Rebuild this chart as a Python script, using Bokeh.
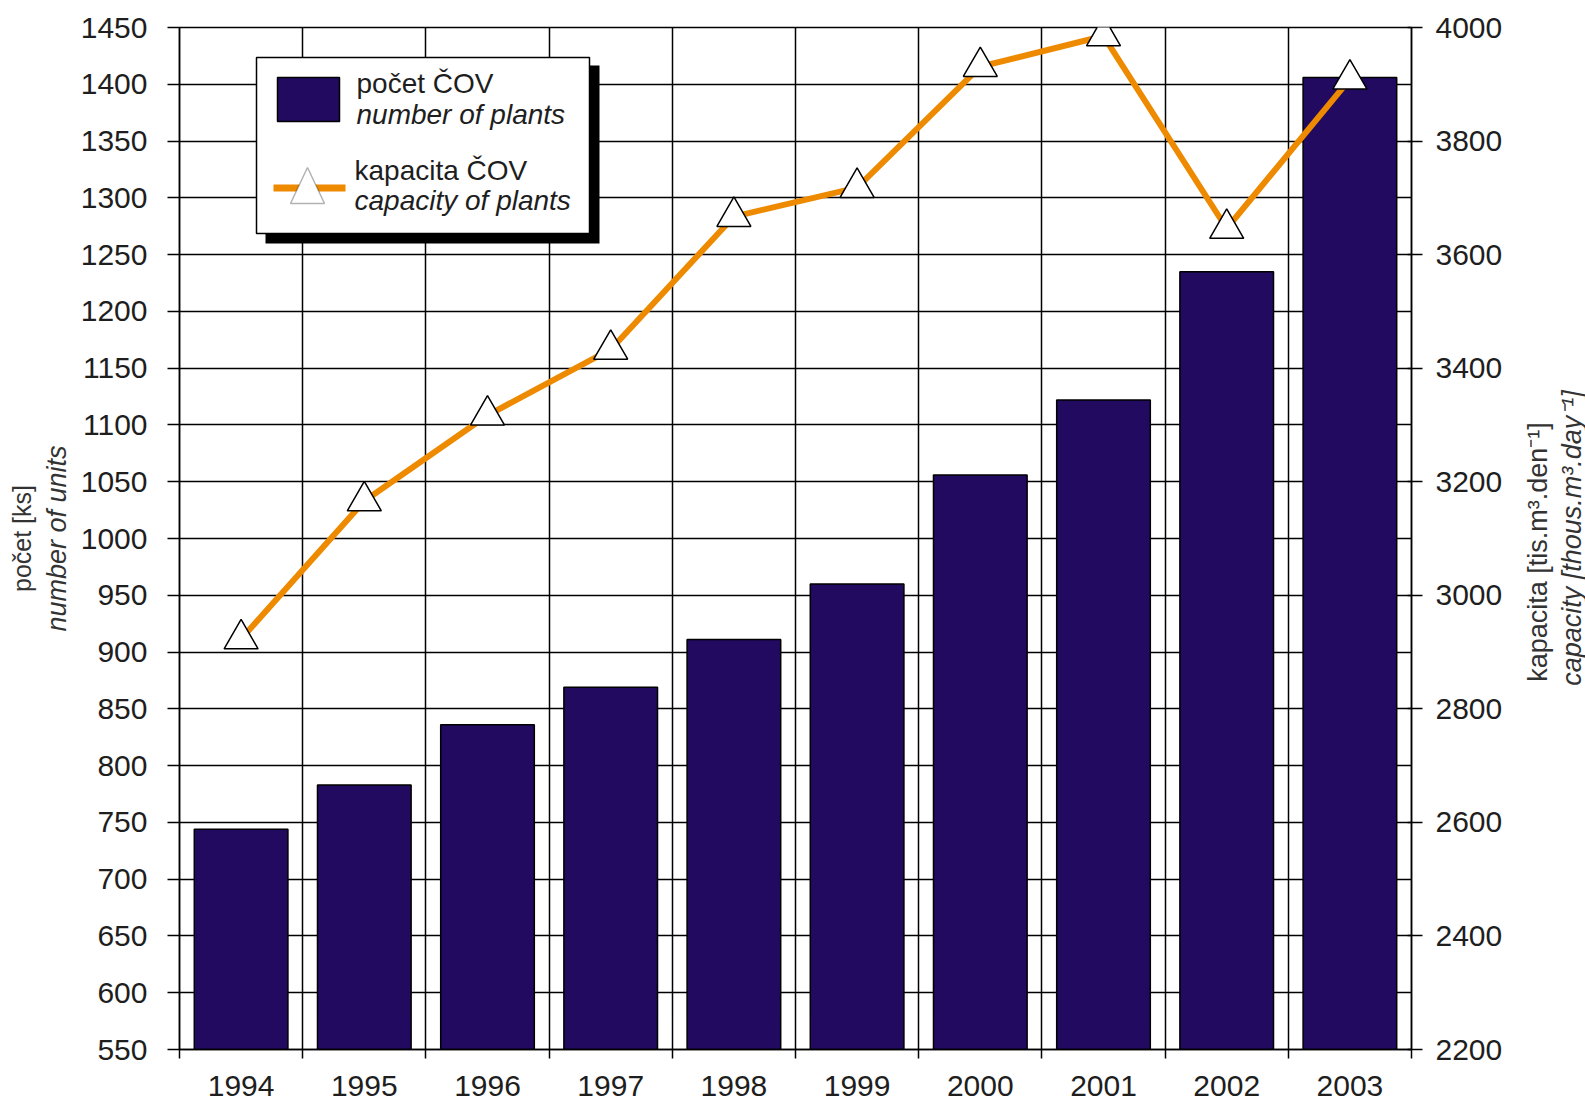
import math
from bokeh.plotting import figure
from bokeh.layouts import row
from bokeh.models import (Range1d, LinearAxis, FixedTicker, BoxAnnotation, Label,
                          PolyAnnotation)
from bokeh.core.properties import value
from bokeh.embed import file_html
from bokeh.resources import INLINE

# ---- data ----
years = [1994, 1995, 1996, 1997, 1998, 1999, 2000, 2001, 2002, 2003]
plants = [744, 783, 836, 869, 911, 960, 1056, 1122, 1235, 1406]          # počet ČOV
capacity = [2923, 3166, 3317, 3433, 3667, 3718, 3931, 3985, 3646, 3909]  # kapacita ČOV
left_ticks = list(range(550, 1451, 50))
right_ticks = list(range(2200, 4001, 200))
year_labels = [str(y) for y in years]

NAVY = "#210a5f"
ORANGE = "#ee8a00"
TXT = "#1e1e1e"
TITLE = "#333333"
FONT = "Liberation Sans"

boundaries = [y - 0.5 for y in years] + [years[-1] + 0.5]

MAIN_W = 1505
SIDE_W = 80
H = 1103

p = figure(width=MAIN_W, height=H,
           x_range=Range1d(years[0] - 0.5, years[-1] + 0.5),
           y_range=Range1d(left_ticks[0], left_ticks[-1]),
           output_backend="svg", toolbar_location=None,
           min_border_left=179, min_border_right=93,
           min_border_top=27, min_border_bottom=54)
p.extra_y_ranges = {"cap": Range1d(right_ticks[0], right_ticks[-1])}
p.background_fill_color = "white"
p.border_fill_color = "white"
p.outline_line_color = "black"
p.outline_line_width = 1.5

# grid
p.xgrid.ticker = FixedTicker(ticks=boundaries)
p.ygrid.ticker = FixedTicker(ticks=left_ticks)
for g in (p.xgrid, p.ygrid):
    g.grid_line_color = "black"
    g.grid_line_width = 1.5

# bars
p.vbar(x=years, top=plants, bottom=left_ticks[0], width=0.76,
       fill_color=NAVY, line_color="black", line_width=1.5)

# capacity line + triangles
p.line(x=years, y=capacity, y_range_name="cap", line_color=ORANGE, line_width=6)
p.scatter(x=years, y=capacity, y_range_name="cap", marker="triangle", size=34,
          fill_color="white", line_color="black", line_width=1.5)

# bottom axis
xa = p.xaxis[0]
xa.ticker = FixedTicker(ticks=years, minor_ticks=boundaries)
xa.major_label_overrides = {y: s for y, s in zip(years, year_labels)}
xa.major_tick_line_color = None
xa.major_tick_out = 0
xa.major_tick_in = 0
xa.minor_tick_line_color = "black"
xa.minor_tick_line_width = 1.5
xa.minor_tick_out = 9
xa.minor_tick_in = 0
xa.axis_line_color = "black"
xa.axis_line_width = 1.5
xa.major_label_text_font = FONT
xa.major_label_text_font_size = "30px"
xa.major_label_text_color = TXT
xa.major_label_standoff = 17

# left axis
ya = p.yaxis[0]
ya.ticker = FixedTicker(ticks=left_ticks)
ya.axis_line_color = "black"
ya.axis_line_width = 1.5
ya.major_tick_line_color = "black"
ya.major_tick_line_width = 1.5
ya.major_tick_out = 12
ya.major_tick_in = 0
ya.minor_tick_line_color = None
ya.major_label_text_font = FONT
ya.major_label_text_font_size = "30px"
ya.major_label_text_color = TXT
ya.major_label_standoff = 20
ya.axis_label = "number of units"
ya.axis_label_text_font = FONT
ya.axis_label_text_font_style = "italic"
ya.axis_label_text_font_size = "27px"
ya.axis_label_text_color = TITLE
ya.axis_label_standoff = 6

ya2 = LinearAxis(ticker=FixedTicker(ticks=[]), axis_line_color=None,
                 major_tick_line_color=None, minor_tick_line_color=None,
                 major_tick_out=0, major_tick_in=0, minor_tick_out=0,
                 major_label_standoff=0,
                 axis_label="počet [ks]", axis_label_text_font=FONT,
                 axis_label_text_font_style="normal",
                 axis_label_text_font_size="25px",
                 axis_label_text_color=TITLE, axis_label_standoff=3)
p.add_layout(ya2, "left")

# right axis
ra = LinearAxis(y_range_name="cap", ticker=FixedTicker(ticks=right_ticks),
                axis_line_color="black", axis_line_width=1.5,
                major_tick_line_color="black", major_tick_line_width=1.5,
                major_tick_out=11, major_tick_in=4,
                minor_tick_line_color=None,
                major_label_text_font=FONT, major_label_text_font_size="30px",
                major_label_text_color=TXT, major_label_standoff=13)
p.add_layout(ra, "right")

# ---- legend (screen units, relative to plot frame bottom-left) ----
def box(l, r, b, t, fill, line=None, lw=1.5):
    return BoxAnnotation(left=l, right=r, bottom=b, top=t,
                         left_units="screen", right_units="screen",
                         bottom_units="screen", top_units="screen",
                         fill_color=fill, fill_alpha=1.0,
                         line_color=line, line_width=lw, line_alpha=1.0 if line else 0)

p.add_layout(box(86, 420, 806, 984, "black"))
p.add_layout(box(77, 410, 816, 992, "white", "black", 1.5))
p.add_layout(box(98, 160, 928, 972, NAVY, "black", 1.5))
p.add_layout(box(94, 166, 858, 865, ORANGE))
p.add_layout(PolyAnnotation(xs=[111, 145, 128], ys=[846, 846, 882],
                            xs_units="screen", ys_units="screen",
                            fill_color="white", fill_alpha=1.0,
                            line_color="black", line_width=1.5))

def lab(x, y, text, style="normal"):
    return Label(x=x, y=y, x_units="screen", y_units="screen", text=text,
                 text_font=FONT, text_font_size="28px", text_font_style=style,
                 text_color=TXT, text_baseline="alphabetic", text_align="left")

p.add_layout(lab(177, 966, "počet ČOV"))
p.add_layout(lab(177, 935, "number of plants", "italic"))
p.add_layout(lab(175, 879, "kapacita ČOV"))
p.add_layout(lab(175, 849, "capacity of plants", "italic"))

# ---- right-side axis titles (narrow companion panel) ----
p2 = figure(width=SIDE_W, height=H, x_range=Range1d(0, SIDE_W), y_range=Range1d(0, H),
            output_backend="svg", toolbar_location=None,
            x_axis_location=None, y_axis_location=None, min_border=0)
p2.grid.visible = False
p2.outline_line_color = None
p2.background_fill_color = "white"
p2.border_fill_color = "white"
p2.text(x=[32], y=[537], text=["kapacita [tis.m³.den⁻¹]"], angle=math.pi / 2,
        text_align="center", text_baseline="middle", text_font=value(FONT),
        text_font_size="27px", text_font_style="normal", text_color=TITLE)
p2.text(x=[66], y=[552], text=["capacity [thous.m³.day⁻¹]"], angle=math.pi / 2,
        text_align="center", text_baseline="middle", text_font=value(FONT),
        text_font_size="27px", text_font_style="italic", text_color=TITLE)

layout = row(p, p2)
open("out.html", "w").write(file_html(layout, INLINE))
